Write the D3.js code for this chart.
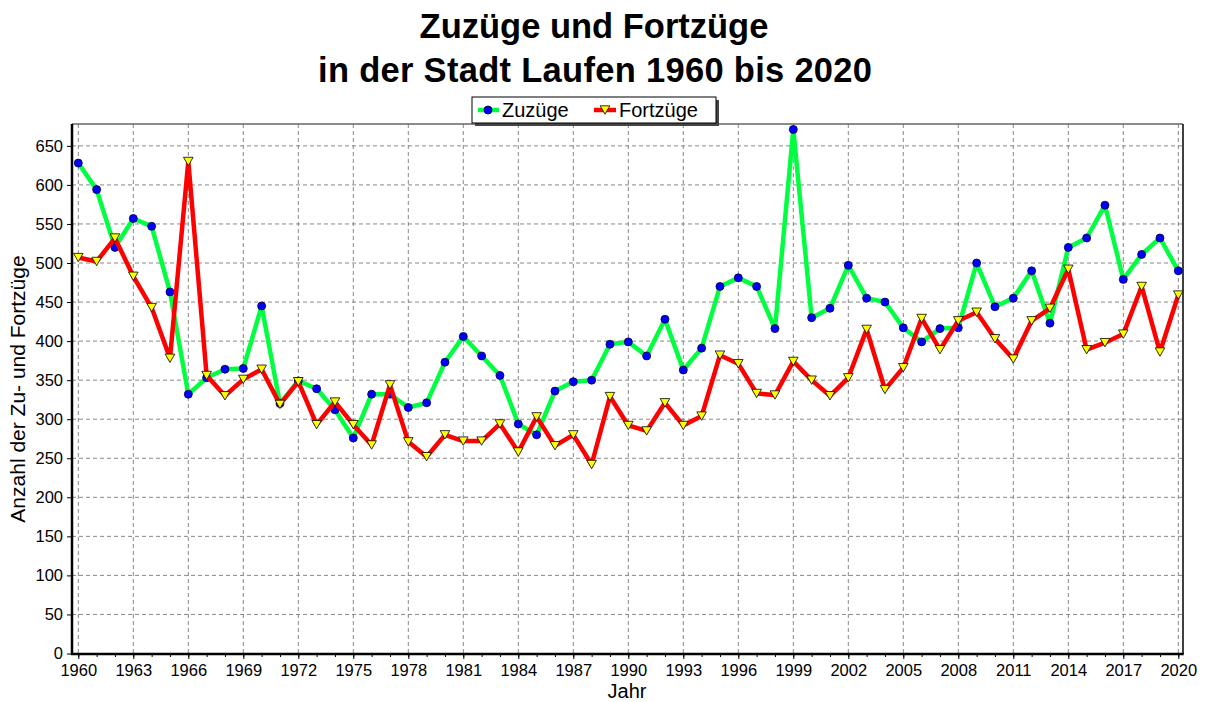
<!DOCTYPE html>
<html><head><meta charset="utf-8">
<script src="https://cdn.jsdelivr.net/npm/d3@7"></script>
<style>
html,body{margin:0;padding:0;background:#fff;}
svg{display:block;font-family:"Liberation Sans",Arial,sans-serif;}
</style></head>
<body><svg id="c" width="1205" height="702"></svg>
<script>
const years = d3.range(1960, 2021);
const zuzuege = [628,594,520,557,547,463,332,353,364,365,445,320,349,339,312,276,332,332,315,321,373,406,381,356,294,280,336,348,350,396,399,381,428,363,391,470,481,470,416,671,430,442,497,455,450,417,399,416,417,500,444,455,490,423,520,532,574,479,511,532,490];
const fortzuege = [507,502,532,483,443,378,630,356,330,351,364,319,348,293,322,293,267,344,271,252,280,272,272,294,258,303,266,280,242,329,292,285,321,292,304,382,371,333,331,374,350,330,353,415,338,366,429,389,426,437,403,377,426,442,492,389,398,409,470,386,459];
const yTicks = d3.range(0, 651, 50);
const xTicks = d3.range(1960, 2021, 3);
const titleLines = ["Zuzüge und Fortzüge", "in der Stadt Laufen 1960 bis 2020"];
const seriesNames = ["Zuzüge", "Fortzüge"];

const svg = d3.select("#c");
const L = 72, R = 1183, T = 124, B = 654;
const x = d3.scaleLinear().domain([1960, 2020]).range([78.3, 1178.3]);
const y = d3.scaleLinear().domain([0, 678]).range([653.5, 124]);

// title
svg.append("text").attr("x", 594).attr("y", 38).attr("text-anchor", "middle")
  .attr("font-size", 34.5).attr("font-weight", "bold").text(titleLines[0]);
svg.append("text").attr("x", 595).attr("y", 82).attr("text-anchor", "middle")
  .attr("font-size", 34.5).attr("font-weight", "bold")
  .attr("textLength", 554).attr("lengthAdjust", "spacing").text(titleLines[1]);

// grid
const g = svg.append("g");
g.selectAll(".gy").data(yTicks.filter(d => d > 0)).join("line")
  .attr("x1", L).attr("x2", R).attr("y1", d => y(d)).attr("y2", d => y(d))
  .attr("stroke", "#888").attr("stroke-dasharray", "4,3").attr("stroke-width", 1);
g.selectAll(".gx").data(xTicks).join("line")
  .attr("x1", d => x(d)).attr("x2", d => x(d)).attr("y1", T).attr("y2", B)
  .attr("stroke", "#888").attr("stroke-dasharray", "4,3").attr("stroke-width", 1);

// frame top/right
svg.append("line").attr("x1", L).attr("x2", R).attr("y1", T).attr("y2", T).attr("stroke", "#666").attr("stroke-width", 1.5);
svg.append("line").attr("x1", R).attr("x2", R).attr("y1", T).attr("y2", B).attr("stroke", "#000").attr("stroke-width", 1.5);

// axes
const xAxis = d3.axisBottom(x).tickValues(xTicks).tickFormat(d3.format("d")).tickSize(5).tickPadding(5);
const xa = svg.append("g").attr("transform", `translate(0,${B})`).call(xAxis);
xa.select(".domain").remove();
xa.selectAll("text").attr("font-size", 16.5).attr("fill", "#000").attr("font-family", "Liberation Sans, Arial, sans-serif");
xa.selectAll("line").attr("stroke", "#000");
const xm = svg.append("g").attr("transform", `translate(0,${B})`).call(d3.axisBottom(x).tickValues(years).tickFormat("").tickSize(3));
xm.select(".domain").remove();
xm.selectAll("line").attr("stroke", "#000");

const yAxis = d3.axisLeft(y).tickValues(yTicks).tickSize(5).tickPadding(4);
const ya = svg.append("g").attr("transform", `translate(${L},0)`).call(yAxis);
ya.select(".domain").remove();
ya.selectAll("text").attr("font-size", 16.5).attr("fill", "#000").attr("font-family", "Liberation Sans, Arial, sans-serif");
ya.selectAll("line").attr("stroke", "#000");

svg.append("line").attr("x1", L).attr("x2", L).attr("y1", T).attr("y2", B + 1).attr("stroke", "#000").attr("stroke-width", 2.5);
svg.append("line").attr("x1", L - 1).attr("x2", R + 0.75).attr("y1", B).attr("y2", B).attr("stroke", "#000").attr("stroke-width", 2.5);

// axis labels
svg.append("text").attr("transform", "translate(25,389) rotate(-90)").attr("text-anchor", "middle")
  .attr("font-size", 21).text("Anzahl der Zu- und Fortzüge");
svg.append("text").attr("x", 627).attr("y", 698).attr("text-anchor", "middle")
  .attr("font-size", 20).text("Jahr");

// series
const line = d3.line().x((d, i) => x(years[i])).y(d => y(d));
const tri = "M-4.8,-4.2L4.8,-4.2L0,4.2Z";
svg.append("path").datum(zuzuege).attr("d", line).attr("fill", "none")
  .attr("stroke", "#00ff40").attr("stroke-width", 4.5).attr("stroke-linejoin", "round");
svg.append("g").selectAll("circle").data(zuzuege).join("circle")
  .attr("cx", (d, i) => x(years[i])).attr("cy", d => y(d)).attr("r", 4)
  .attr("fill", "#0000ff").attr("stroke", "#000040").attr("stroke-width", 0.8);
svg.append("path").datum(fortzuege).attr("d", line).attr("fill", "none")
  .attr("stroke", "#ff0000").attr("stroke-width", 4.5).attr("stroke-linejoin", "round");
svg.append("g").selectAll("path").data(fortzuege).join("path")
  .attr("transform", (d, i) => `translate(${x(years[i])},${y(d)})`).attr("d", tri)
  .attr("fill", "#ffff00").attr("stroke", "#000").attr("stroke-width", 0.8);

// legend
const lg = svg.append("g");
lg.append("rect").attr("x", 475).attr("y", 100).attr("width", 244).attr("height", 26).attr("fill", "#444");
lg.append("rect").attr("x", 472).attr("y", 97).attr("width", 244).attr("height", 26).attr("fill", "#fff").attr("stroke", "#000").attr("stroke-width", 1);
lg.append("line").attr("x1", 478).attr("x2", 499).attr("y1", 110).attr("y2", 110).attr("stroke", "#00ff40").attr("stroke-width", 4.5);
lg.append("circle").attr("cx", 488).attr("cy", 110).attr("r", 4).attr("fill", "#0000ff").attr("stroke", "#000040").attr("stroke-width", 0.8);
lg.append("text").attr("x", 502).attr("y", 117).attr("font-size", 20).text(seriesNames[0]);
lg.append("line").attr("x1", 594).attr("x2", 616).attr("y1", 110).attr("y2", 110).attr("stroke", "#ff0000").attr("stroke-width", 4.5);
lg.append("path").attr("transform", "translate(605,110)").attr("d", tri).attr("fill", "#ffff00").attr("stroke", "#000").attr("stroke-width", 0.8);
lg.append("text").attr("x", 619).attr("y", 117).attr("font-size", 20).text(seriesNames[1]);
</script></body></html>
